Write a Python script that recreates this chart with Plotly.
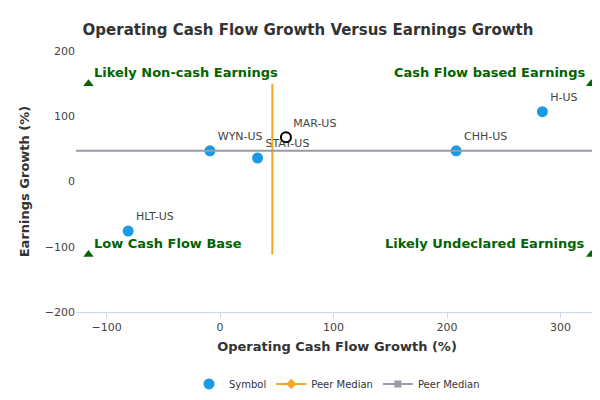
import plotly.graph_objects as go

# data
symbols = ['HLT-US', 'WYN-US', 'STAY-US', 'MAR-US', 'CHH-US', 'H-US']
cf_growth = [-81, -9, 33, 58, 208, 284]
earn_growth = [-76, 47, 36, 68, 47, 107]
median_x = 46
median_y = 47
x_range = [-127, 333]
y_range = [-200, 200]
corner_x = [-116, 327, -116, 327]
corner_y = [150, 150, -112, -112]
quad_labels = ['Likely Non-cash Earnings', 'Cash Flow based Earnings',
               'Low Cash Flow Base', 'Likely Undeclared Earnings']

blue = '#1a9ae6'
green = '#006400'

fig = go.Figure()

others = [i for i, s in enumerate(symbols) if s != 'MAR-US']
mar = symbols.index('MAR-US')

fig.add_trace(go.Scatter(
    x=[cf_growth[i] for i in others], y=[earn_growth[i] for i in others],
    mode='markers+text', text=[symbols[i] for i in others],
    textposition='top right', textfont=dict(size=11, color='#444'),
    marker=dict(size=11, color=blue), name='Symbol'))
fig.add_trace(go.Scatter(
    x=[cf_growth[mar]], y=[earn_growth[mar]], mode='markers+text',
    text=[symbols[mar]], textposition='top right',
    textfont=dict(size=11, color='#444'),
    marker=dict(size=10, color='white', line=dict(color='black', width=2)),
    showlegend=False))

fig.add_trace(go.Scatter(
    x=[median_x, median_x], y=[-112, 150], mode='lines',
    line=dict(color='#f5a623', width=2), showlegend=False))
fig.add_trace(go.Scatter(
    x=[None], y=[None], mode='lines+markers',
    line=dict(color='#f5a623', width=2),
    marker=dict(symbol='diamond', size=8), name='Peer Median'))
fig.add_trace(go.Scatter(
    x=x_range, y=[median_y, median_y], mode='lines',
    line=dict(color='#9a9aa8', width=2), showlegend=False))
fig.add_trace(go.Scatter(
    x=[None], y=[None], mode='lines+markers',
    line=dict(color='#9a9aa8', width=2),
    marker=dict(symbol='square', size=7), name='Peer Median'))

fig.add_trace(go.Scatter(
    x=corner_x, y=corner_y, mode='markers',
    marker=dict(symbol='triangle-up', size=9, color=green), showlegend=False))

positions = [('left', 4), ('right', -4), ('left', 4), ('right', -4)]
for (xa, dx), x, y, t in zip(positions, corner_x, corner_y, quad_labels):
    fig.add_annotation(x=x, y=y, text='<b>' + t + '</b>', showarrow=False,
                       xanchor=xa, yanchor='bottom', xshift=dx, yshift=2,
                       font=dict(size=13, color=green))

fig.add_annotation(x=1, y=-0.33, xref='paper', yref='paper', showarrow=False,
                   text='www.capitalcube.com', xanchor='right', yanchor='top',
                   font=dict(size=10, color='#888'))

fig.update_layout(
    width=600, height=400,
    paper_bgcolor='white', plot_bgcolor='white',
    font=dict(family='DejaVu Sans', size=11, color='#444'),
    title=dict(text='<b>Operating Cash Flow Growth Versus Earnings Growth</b>',
               x=0.5, y=0.96, font=dict(size=15, color='#333')),
    margin=dict(l=68, r=10, t=43, b=93),
    xaxis=dict(range=x_range, tickvals=[-100, 0, 100, 200, 300],
               showgrid=False, zeroline=False, showline=True, automargin=False,
               linecolor='#ccd6eb', ticks='outside', tickcolor='#ccd6eb',
               title=dict(text='<b>Operating Cash Flow Growth (%)</b>',
                          font=dict(size=13, color='#333'), standoff=8)),
    yaxis=dict(range=y_range, tickvals=[-200, -100, 0, 100, 200],
               showgrid=False, zeroline=False, automargin=False,
               title=dict(text='<b>Earnings Growth (%)</b>',
                          font=dict(size=13, color='#333'), standoff=12)),
    legend=dict(orientation='h', x=0.5, xanchor='center', y=-0.22,
                yanchor='top', font=dict(size=10, color='#333')),
)

fig.write_html('out.html')
